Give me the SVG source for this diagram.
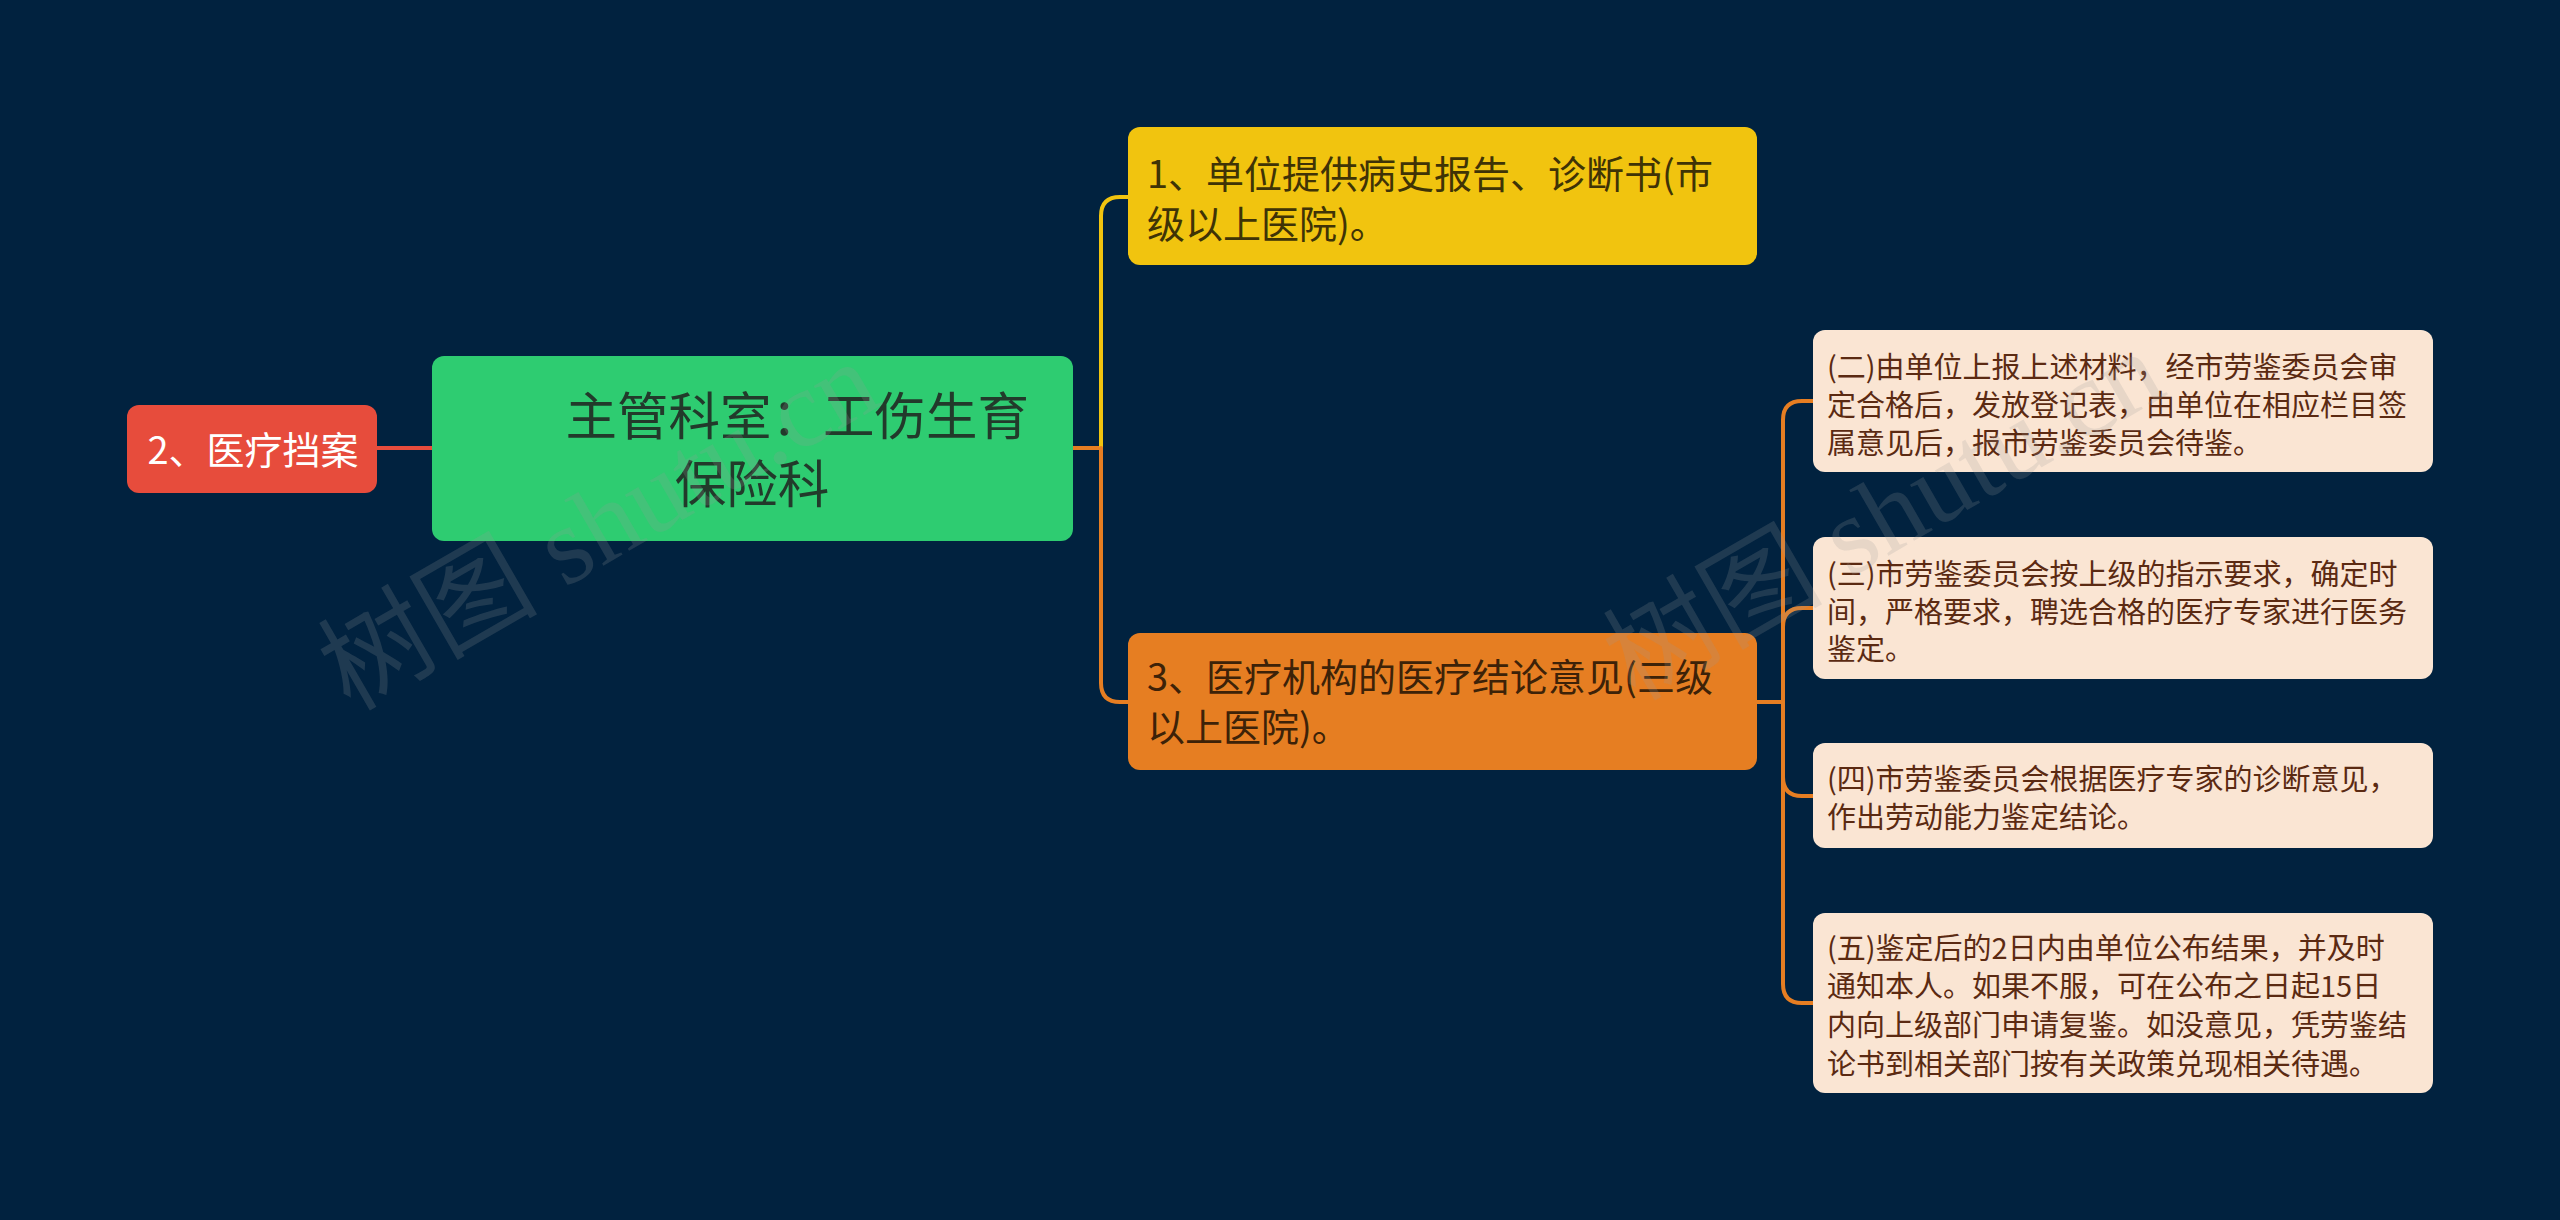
<svg xmlns="http://www.w3.org/2000/svg" width="2560" height="1220" viewBox="0 0 2560 1220">
<style>
.cjk{font-family:"Noto Sans CJK SC","Noto Sans",sans-serif}
.conn{fill:none;stroke-width:4;stroke-linecap:round;stroke-linejoin:round}
.t-beige{font-size:29px;fill:#5b2a12}
.t-big{font-size:38px}
.wm{font-family:"Liberation Serif","Noto Sans CJK SC",serif;font-size:110px;fill:#9a9a9a;fill-opacity:0.2}
</style>
<rect x="0" y="0" width="2560" height="1220" fill="#01223f"/>

<g id="connectors">
  <path class="conn" stroke="#e74c3c" d="M377,448 H432"/>
  <path class="conn" stroke="#e67e22" d="M1073,448 H1101"/>
  <path class="conn" stroke="#f1c40f" d="M1101,448 V216 Q1101,197 1120,197 H1128"/>
  <path class="conn" stroke="#e67e22" d="M1101,448 V683 Q1101,702 1120,702 H1128"/>
  <path class="conn" stroke="#e67e22" d="M1757,702 H1783"/>
  <path class="conn" stroke="#e67e22" d="M1783,702 V420 Q1783,401 1802,401 H1813"/>
  <path class="conn" stroke="#e67e22" d="M1783,702 V627 Q1783,608 1802,608 H1813"/>
  <path class="conn" stroke="#e67e22" d="M1783,702 V777 Q1783,796 1802,796 H1813"/>
  <path class="conn" stroke="#e67e22" d="M1783,702 V984 Q1783,1003 1802,1003 H1813"/>
</g>

<g id="node-red">
  <rect x="127" y="405" width="250" height="88" rx="12" fill="#e74c3c"/>
  <text class="cjk t-big" x="253" y="464" text-anchor="middle" fill="#ffffff">2、医疗挡案</text>
</g>

<g id="node-root">
  <rect x="432" y="356" width="641" height="185" rx="12" fill="#2ecc71"/>
  <text class="cjk" font-size="51.5" fill="#223a2b">
    <tspan x="803" y="435" text-anchor="middle">主管科室：工伤生育</tspan>
    <tspan x="752" y="503" text-anchor="middle">保险科</tspan>
  </text>
</g>

<g id="node-1">
  <rect x="1128" y="127" width="629" height="138" rx="12" fill="#f1c40f"/>
  <text class="cjk t-big" fill="#3f3306">
    <tspan x="1147" y="188">1、单位提供病史报告、诊断书(市</tspan>
    <tspan x="1147" y="238">级以上医院)。</tspan>
  </text>
</g>

<g id="node-3">
  <rect x="1128" y="633" width="629" height="137" rx="12" fill="#e67e22"/>
  <text class="cjk t-big" fill="#3d2208">
    <tspan x="1147" y="691">3、医疗机构的医疗结论意见(三级</tspan>
    <tspan x="1147" y="741">以上医院)。</tspan>
  </text>
</g>

<g id="node-b1">
  <rect x="1813" y="330" width="620" height="142" rx="12" fill="#fae5d3"/>
  <text class="cjk t-beige">
    <tspan x="1827" y="378">(二)由单位上报上述材料，经市劳鉴委员会审</tspan>
    <tspan x="1827" y="416">定合格后，发放登记表，由单位在相应栏目签</tspan>
    <tspan x="1827" y="454">属意见后，报市劳鉴委员会待鉴。</tspan>
  </text>
</g>

<g id="node-b2">
  <rect x="1813" y="537" width="620" height="142" rx="12" fill="#fae5d3"/>
  <text class="cjk t-beige">
    <tspan x="1827" y="585">(三)市劳鉴委员会按上级的指示要求，确定时</tspan>
    <tspan x="1827" y="623">间，严格要求，聘选合格的医疗专家进行医务</tspan>
    <tspan x="1827" y="660">鉴定。</tspan>
  </text>
</g>

<g id="node-b3">
  <rect x="1813" y="743" width="620" height="105" rx="12" fill="#fae5d3"/>
  <text class="cjk t-beige">
    <tspan x="1827" y="790">(四)市劳鉴委员会根据医疗专家的诊断意见，</tspan>
    <tspan x="1827" y="828">作出劳动能力鉴定结论。</tspan>
  </text>
</g>

<g id="node-b4">
  <rect x="1813" y="913" width="620" height="180" rx="12" fill="#fae5d3"/>
  <text class="cjk t-beige">
    <tspan x="1827" y="959">(五)鉴定后的2日内由单位公布结果，并及时</tspan>
    <tspan x="1827" y="997">通知本人。如果不服，可在公布之日起15日</tspan>
    <tspan x="1827" y="1036">内向上级部门申请复鉴。如没意见，凭劳鉴结</tspan>
    <tspan x="1827" y="1075">论书到相关部门按有关政策兑现相关待遇。</tspan>
  </text>
</g>

<g id="watermarks">
  <text class="wm" transform="translate(350,712) rotate(-30)">树图 shutu.cn</text>
  <text class="wm" transform="translate(1635,702) rotate(-30)">树图 shutu.cn</text>
</g>
</svg>
